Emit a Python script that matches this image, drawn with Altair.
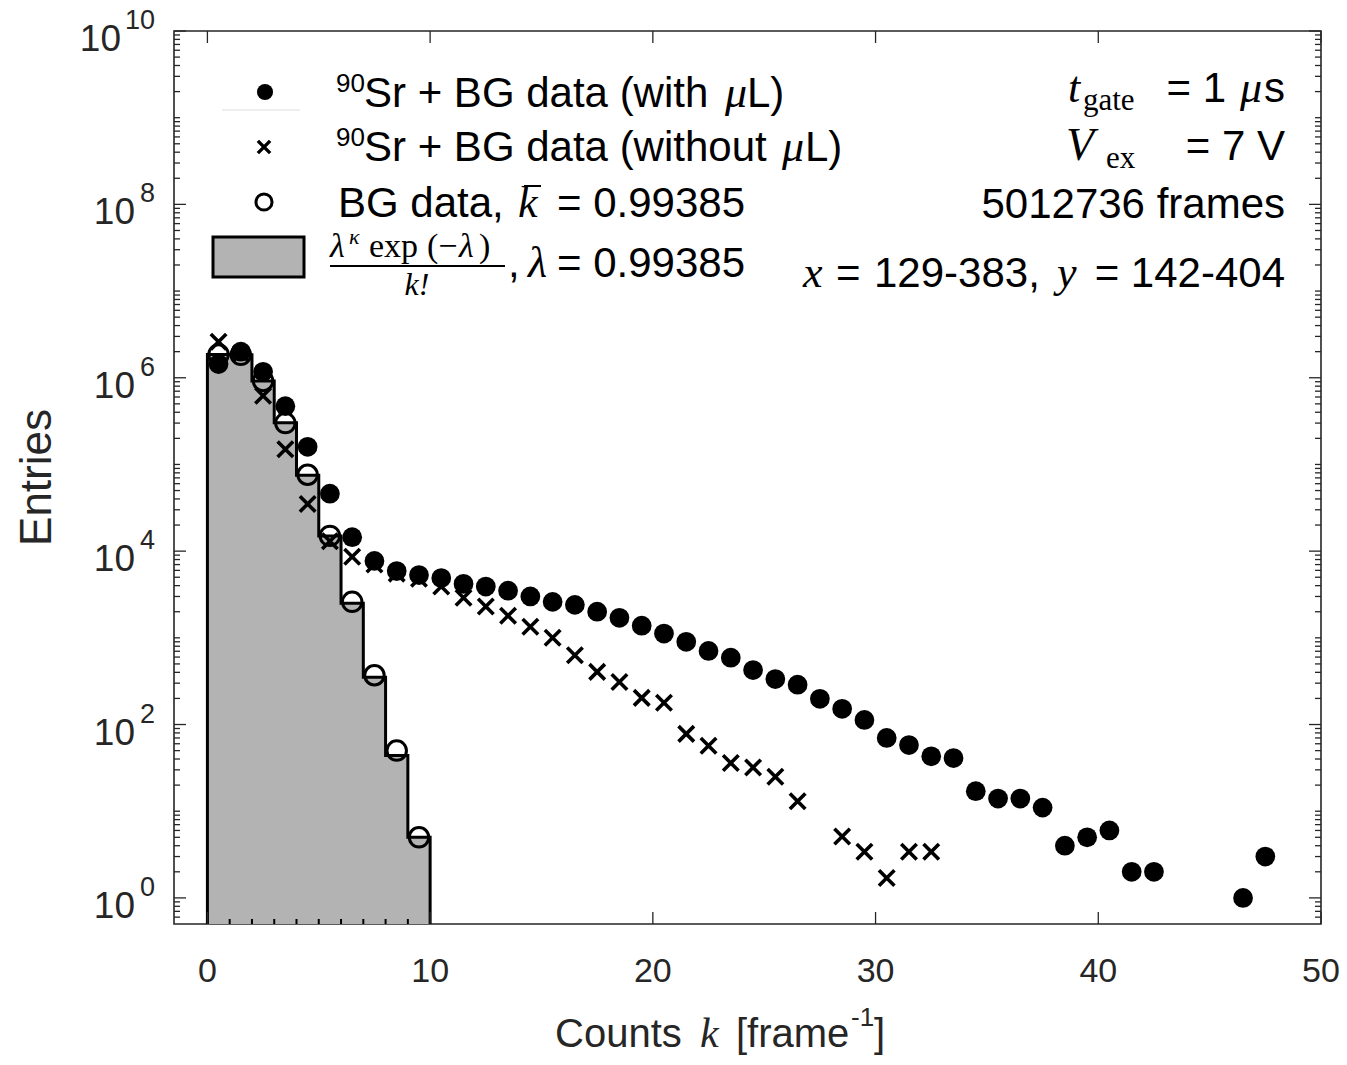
import altair as alt
import pandas as pd

W, H = 1147, 893

# ---------------- data ----------------
k_with = [0.5, 1.5, 2.5, 3.5, 4.5, 5.5, 6.5, 7.5, 8.5, 9.5, 10.5, 11.5, 12.5, 13.5, 14.5,
          15.5, 16.5, 17.5, 18.5, 19.5, 20.5, 21.5, 22.5, 23.5, 24.5, 25.5, 26.5, 27.5,
          28.5, 29.5, 30.5, 31.5, 32.5, 33.5, 34.5, 35.5, 36.5, 37.5, 38.5, 39.5, 40.5,
          41.5, 42.5, 46.5, 47.5]
n_with = [1.44e6, 2.0e6, 1.17e6, 4.7e5, 1.6e5, 4.6e4, 1.45e4, 7.7e3, 5.9e3, 5.3e3, 4.9e3,
          4.2e3, 3.9e3, 3.5e3, 3.0e3, 2.6e3, 2.4e3, 2.0e3, 1.7e3, 1.38e3, 1.12e3, 900, 705,
          590, 425, 335, 288, 198, 152, 113, 70, 58, 43, 41, 17, 14, 14, 11, 4, 5, 6, 2, 2,
          1, 3]

k_without = [0.5, 1.5, 2.5, 3.5, 4.5, 5.5, 6.5, 7.5, 8.5, 9.5, 10.5, 11.5, 12.5, 13.5,
             14.5, 15.5, 16.5, 17.5, 18.5, 19.5, 20.5, 21.5, 22.5, 23.5, 24.5, 25.5, 26.5,
             28.5, 29.5, 30.5, 31.5, 32.5]
n_without = [2.6e6, 1.9e6, 6.2e5, 1.5e5, 3.5e4, 1.3e4, 8.6e3, 7.0e3, 5.5e3, 4.8e3, 3.9e3,
             2.9e3, 2.3e3, 1.8e3, 1.34e3, 1.0e3, 630, 405, 310, 203, 178, 78, 57, 36, 32,
             25, 13, 5.1, 3.4, 1.7, 3.4, 3.4]

k_bg = [0.5, 1.5, 2.5, 3.5, 4.5, 5.5, 6.5, 7.5, 8.5, 9.5]
n_bg = [1.86e6, 1.84e6, 9.2e5, 3.0e5, 7.6e4, 1.5e4, 2.6e3, 370, 50, 5]

bin_lo = [0, 1, 2, 3, 4, 5, 6, 7, 8, 9]
bin_hi_last = 10
pois = [1.85e6, 1.84e6, 9.15e5, 3.03e5, 7.5e4, 1.5e4, 2.5e3, 350, 44, 5]

x_ticks = [0, 10, 20, 30, 40, 50]
y_major_exp = [0, 2, 4, 6, 8, 10]
floor_val = 0.1  # clamped to the bottom of the axis

# ---------------- scales ----------------
XS = alt.Scale(domain=[-1.5, 50], nice=False, zero=False)
YS = alt.Scale(type="log", domain=[0.5, 1e10], nice=False, clamp=True)

def xq(f):
    return alt.X(f, type="quantitative", scale=XS, axis=None)

def yq(f):
    return alt.Y(f, type="quantitative", scale=YS, axis=None)

# ---------------- histogram ----------------
area_df = pd.DataFrame({"x": bin_lo + [bin_hi_last], "y": pois + [pois[-1]],
                        "b": [floor_val] * (len(bin_lo) + 1)})
hist_area = alt.Chart(area_df).mark_area(interpolate="step-after", color="#b3b3b3",
                                         opacity=1).encode(x=xq("x"), y=yq("y"), y2="b")

ol_x = [0] + bin_lo + [bin_hi_last, bin_hi_last]
ol_y = [floor_val] + pois + [pois[-1], floor_val]
outline_df = pd.DataFrame({"x": ol_x, "y": ol_y, "i": list(range(len(ol_x)))})
hist_line = alt.Chart(outline_df).mark_line(interpolate="step-after", color="black",
                                            strokeWidth=3).encode(
    x=xq("x"), y=yq("y"), order="i:Q")
edge_df = pd.DataFrame({"x": bin_lo[1:]})
hist_edges = alt.Chart(edge_df).mark_rule(color="black", strokeWidth=2).encode(
    x=xq("x"), y=alt.value(H - 5), y2=alt.value(H))

# ---------------- markers ----------------
XSHAPE = "M-1,-1L1,1M-1,1L1,-1"
bg_pts = alt.Chart(pd.DataFrame({"k": k_bg, "n": n_bg})).mark_point(
    shape="circle", filled=False, color="black", strokeWidth=3, size=380, opacity=1
).encode(x=xq("k"), y=yq("n"))
with_pts = alt.Chart(pd.DataFrame({"k": k_with, "n": n_with})).mark_point(
    shape="circle", filled=True, color="black", size=390, opacity=1
).encode(x=xq("k"), y=yq("n"))
without_pts = alt.Chart(pd.DataFrame({"k": k_without, "n": n_without})).mark_point(
    shape=XSHAPE, filled=False, color="black", strokeWidth=3.6, size=240, opacity=1
).encode(x=xq("k"), y=yq("n"))

# ---------------- frame ticks ----------------
AX = "#262626"
major_y = [10.0 ** e for e in y_major_exp]
minor_y = [m * 10.0 ** d for d in range(0, 10) for m in range(2, 10)] + \
          [10.0 ** d for d in (1, 3, 5, 7, 9)] + [0.6, 0.7, 0.8, 0.9]
ymaj_df = pd.DataFrame({"v": major_y})
ymin_df = pd.DataFrame({"v": minor_y})
xmaj_df = pd.DataFrame({"v": x_ticks})

def yticks(df, length):
    left = alt.Chart(df).mark_rule(color=AX, strokeWidth=1.3).encode(
        y=yq("v"), x=alt.value(0), x2=alt.value(length))
    right = alt.Chart(df).mark_rule(color=AX, strokeWidth=1.3).encode(
        y=yq("v"), x=alt.value(W - length), x2=alt.value(W))
    return left + right

xt_bottom = alt.Chart(xmaj_df).mark_rule(color=AX, strokeWidth=1.3).encode(
    x=xq("v"), y=alt.value(H - 12), y2=alt.value(H))
xt_top = alt.Chart(xmaj_df).mark_rule(color=AX, strokeWidth=1.3).encode(
    x=xq("v"), y=alt.value(0), y2=alt.value(12))

# ---------------- tick labels ----------------
SANS = "Liberation Sans"
SERIF = "Liberation Serif"
xlab_df = pd.DataFrame({"v": x_ticks, "t": [str(v) for v in x_ticks]})
xlabels = alt.Chart(xlab_df).mark_text(font=SANS, fontSize=34, color=AX,
                                       baseline="middle", align="center").encode(
    x=xq("v"), y=alt.value(H + 48), text="t:N")

ylab_df = pd.DataFrame({"v": major_y, "e": [str(e) for e in y_major_exp],
                        "base": ["10"] * len(major_y)})
ylab1 = ylab_df[ylab_df["e"].str.len() == 1]
ylab2 = ylab_df[ylab_df["e"].str.len() == 2]
ybase1 = alt.Chart(ylab1).mark_text(font=SANS, fontSize=37, color=AX, align="right",
                                    baseline="middle", dy=9).encode(
    y=yq("v"), x=alt.value(-39), text="base:N")
ybase2 = alt.Chart(ylab2).mark_text(font=SANS, fontSize=37, color=AX, align="right",
                                    baseline="middle", dy=9).encode(
    y=yq("v"), x=alt.value(-53), text="base:N")
yexp = alt.Chart(ylab_df).mark_text(font=SANS, fontSize=27, color=AX, align="right",
                                    baseline="middle", dy=-10).encode(
    y=yq("v"), x=alt.value(-19), text="e:N")

# ---------------- free text helper ----------------
def txt(s, x, y, size=42, font=SANS, style="normal", align="left",
        baseline="alphabetic", angle=0, color="black"):
    kw = dict(font=font, fontSize=size, fontStyle=style, align=align,
              baseline=baseline, color=color)
    if angle:
        kw["angle"] = angle
    return alt.Chart(pd.DataFrame({"t": [s]})).mark_text(**kw).encode(
        x=alt.value(x), y=alt.value(y), text="t:N")

def hrule(x1, x2, y, w=2, color="black"):
    return alt.Chart(pd.DataFrame({"a": [0]})).mark_rule(color=color, strokeWidth=w).encode(
        x=alt.value(x1), x2=alt.value(x2), y=alt.value(y))

# axis titles
ytitle = txt("Entries", -136, H / 2, size=44, align="center", baseline="middle",
             angle=270, color=AX)
xt = [
    txt("Counts", 381, 1016, size=40, color=AX),
    txt("k", 526, 1016, size=42, font=SERIF, style="italic", color=AX),
    txt("[frame", 562, 1016, size=40, color=AX),
    txt("-1", 677, 995, size=26, color=AX),
    txt("]", 700, 1016, size=40, color=AX),
]

# legend (symbols)
leg = [
    alt.Chart(pd.DataFrame({"a": [0]})).mark_point(shape="circle", filled=True, color="black",
                                                  size=260, opacity=1).encode(
        x=alt.value(91), y=alt.value(61)),
    hrule(48, 126, 79, w=1, color="#dddddd"),
    alt.Chart(pd.DataFrame({"a": [0]})).mark_point(shape=XSHAPE, filled=False, color="black",
                                                  strokeWidth=3.4, size=150, opacity=1).encode(
        x=alt.value(90), y=alt.value(116)),
    alt.Chart(pd.DataFrame({"a": [0]})).mark_point(shape="circle", filled=False, color="black",
                                                  strokeWidth=3, size=260, opacity=1).encode(
        x=alt.value(90), y=alt.value(171)),
    alt.Chart(pd.DataFrame({"a": [0]})).mark_rect(color="#b3b3b3", stroke="black",
                                                 strokeWidth=3).encode(
        x=alt.value(39), x2=alt.value(130), y=alt.value(206), y2=alt.value(246)),
]
# legend (text)
leg += [
    txt("90", 162, 61, size=26),
    txt("Sr + BG data (with ", 190, 76),
    txt("\u03bc", 551, 76, font=SERIF, style="italic", size=44),
    txt("L)", 573, 76),
    txt("90", 162, 115, size=26),
    txt("Sr + BG data (without ", 190, 130),
    txt("\u03bc", 608, 130, font=SERIF, style="italic", size=44),
    txt("L)", 631, 130),
    txt("BG data, ", 164, 186),
    txt("k", 344, 186, font=SERIF, style="italic", size=44),
    hrule(350, 367, 155, w=2),
    txt("= 0.99385", 383, 186),
    # fraction
    txt("\u03bb", 156, 226, size=34, font=SERIF, style="italic"),
    txt("\u03ba", 175, 213, size=22, font=SERIF, style="italic"),
    txt("exp", 195, 226, size=34, font=SERIF),
    txt("(\u2212", 253, 226, size=34, font=SERIF),
    txt("\u03bb", 285, 226, size=34, font=SERIF, style="italic"),
    txt(")", 305, 226, size=34, font=SERIF),
    hrule(156, 331, 235, w=2),
    txt("k!", 243, 264, size=32, font=SERIF, style="italic", align="center"),
    txt(",", 334, 246),
    txt("\u03bb", 354, 246, font=SERIF, style="italic", size=44),
    txt("= 0.99385", 383, 246),
]

# right-hand annotations
RX = 1111
ann = [
    txt("t", 894, 71, font=SERIF, style="italic", size=44),
    txt("gate", 909, 79, size=31, font=SERIF),
    txt("= 1", 1052, 71, align="right"),
    txt("\u03bc", 1088, 71, font=SERIF, style="italic", align="right", size=44),
    txt("s", RX, 71, align="right"),
    txt("V", 892, 129, font=SERIF, style="italic", size=46),
    txt("ex", 932, 137, size=31, font=SERIF),
    txt("= 7 V", RX, 129, align="right"),
    txt("5012736 frames", RX, 187, align="right"),
    txt("x", 629, 256, font=SERIF, style="italic", size=44),
    txt("=", 662, 256),
    txt("129-383,", 700, 256),
    txt("y", 883, 256, font=SERIF, style="italic", size=44),
    txt("= 142-404", RX, 256, align="right"),
]

layers = [hist_area, hist_line, hist_edges, bg_pts, with_pts, without_pts,
          yticks(ymaj_df, 12), yticks(ymin_df, 6), xt_bottom, xt_top,
          xlabels, ybase1, ybase2, yexp, ytitle] + xt + leg + ann

chart = alt.layer(*layers).properties(
    width=W, height=H,
    autosize=alt.AutoSizeParams(type="none"),
    padding={"left": 174, "top": 31, "right": 26, "bottom": 141},
    background="white",
).configure_view(stroke=AX, strokeWidth=1.6)

chart.save("out.html", embed_options={"renderer": "svg", "actions": False})
